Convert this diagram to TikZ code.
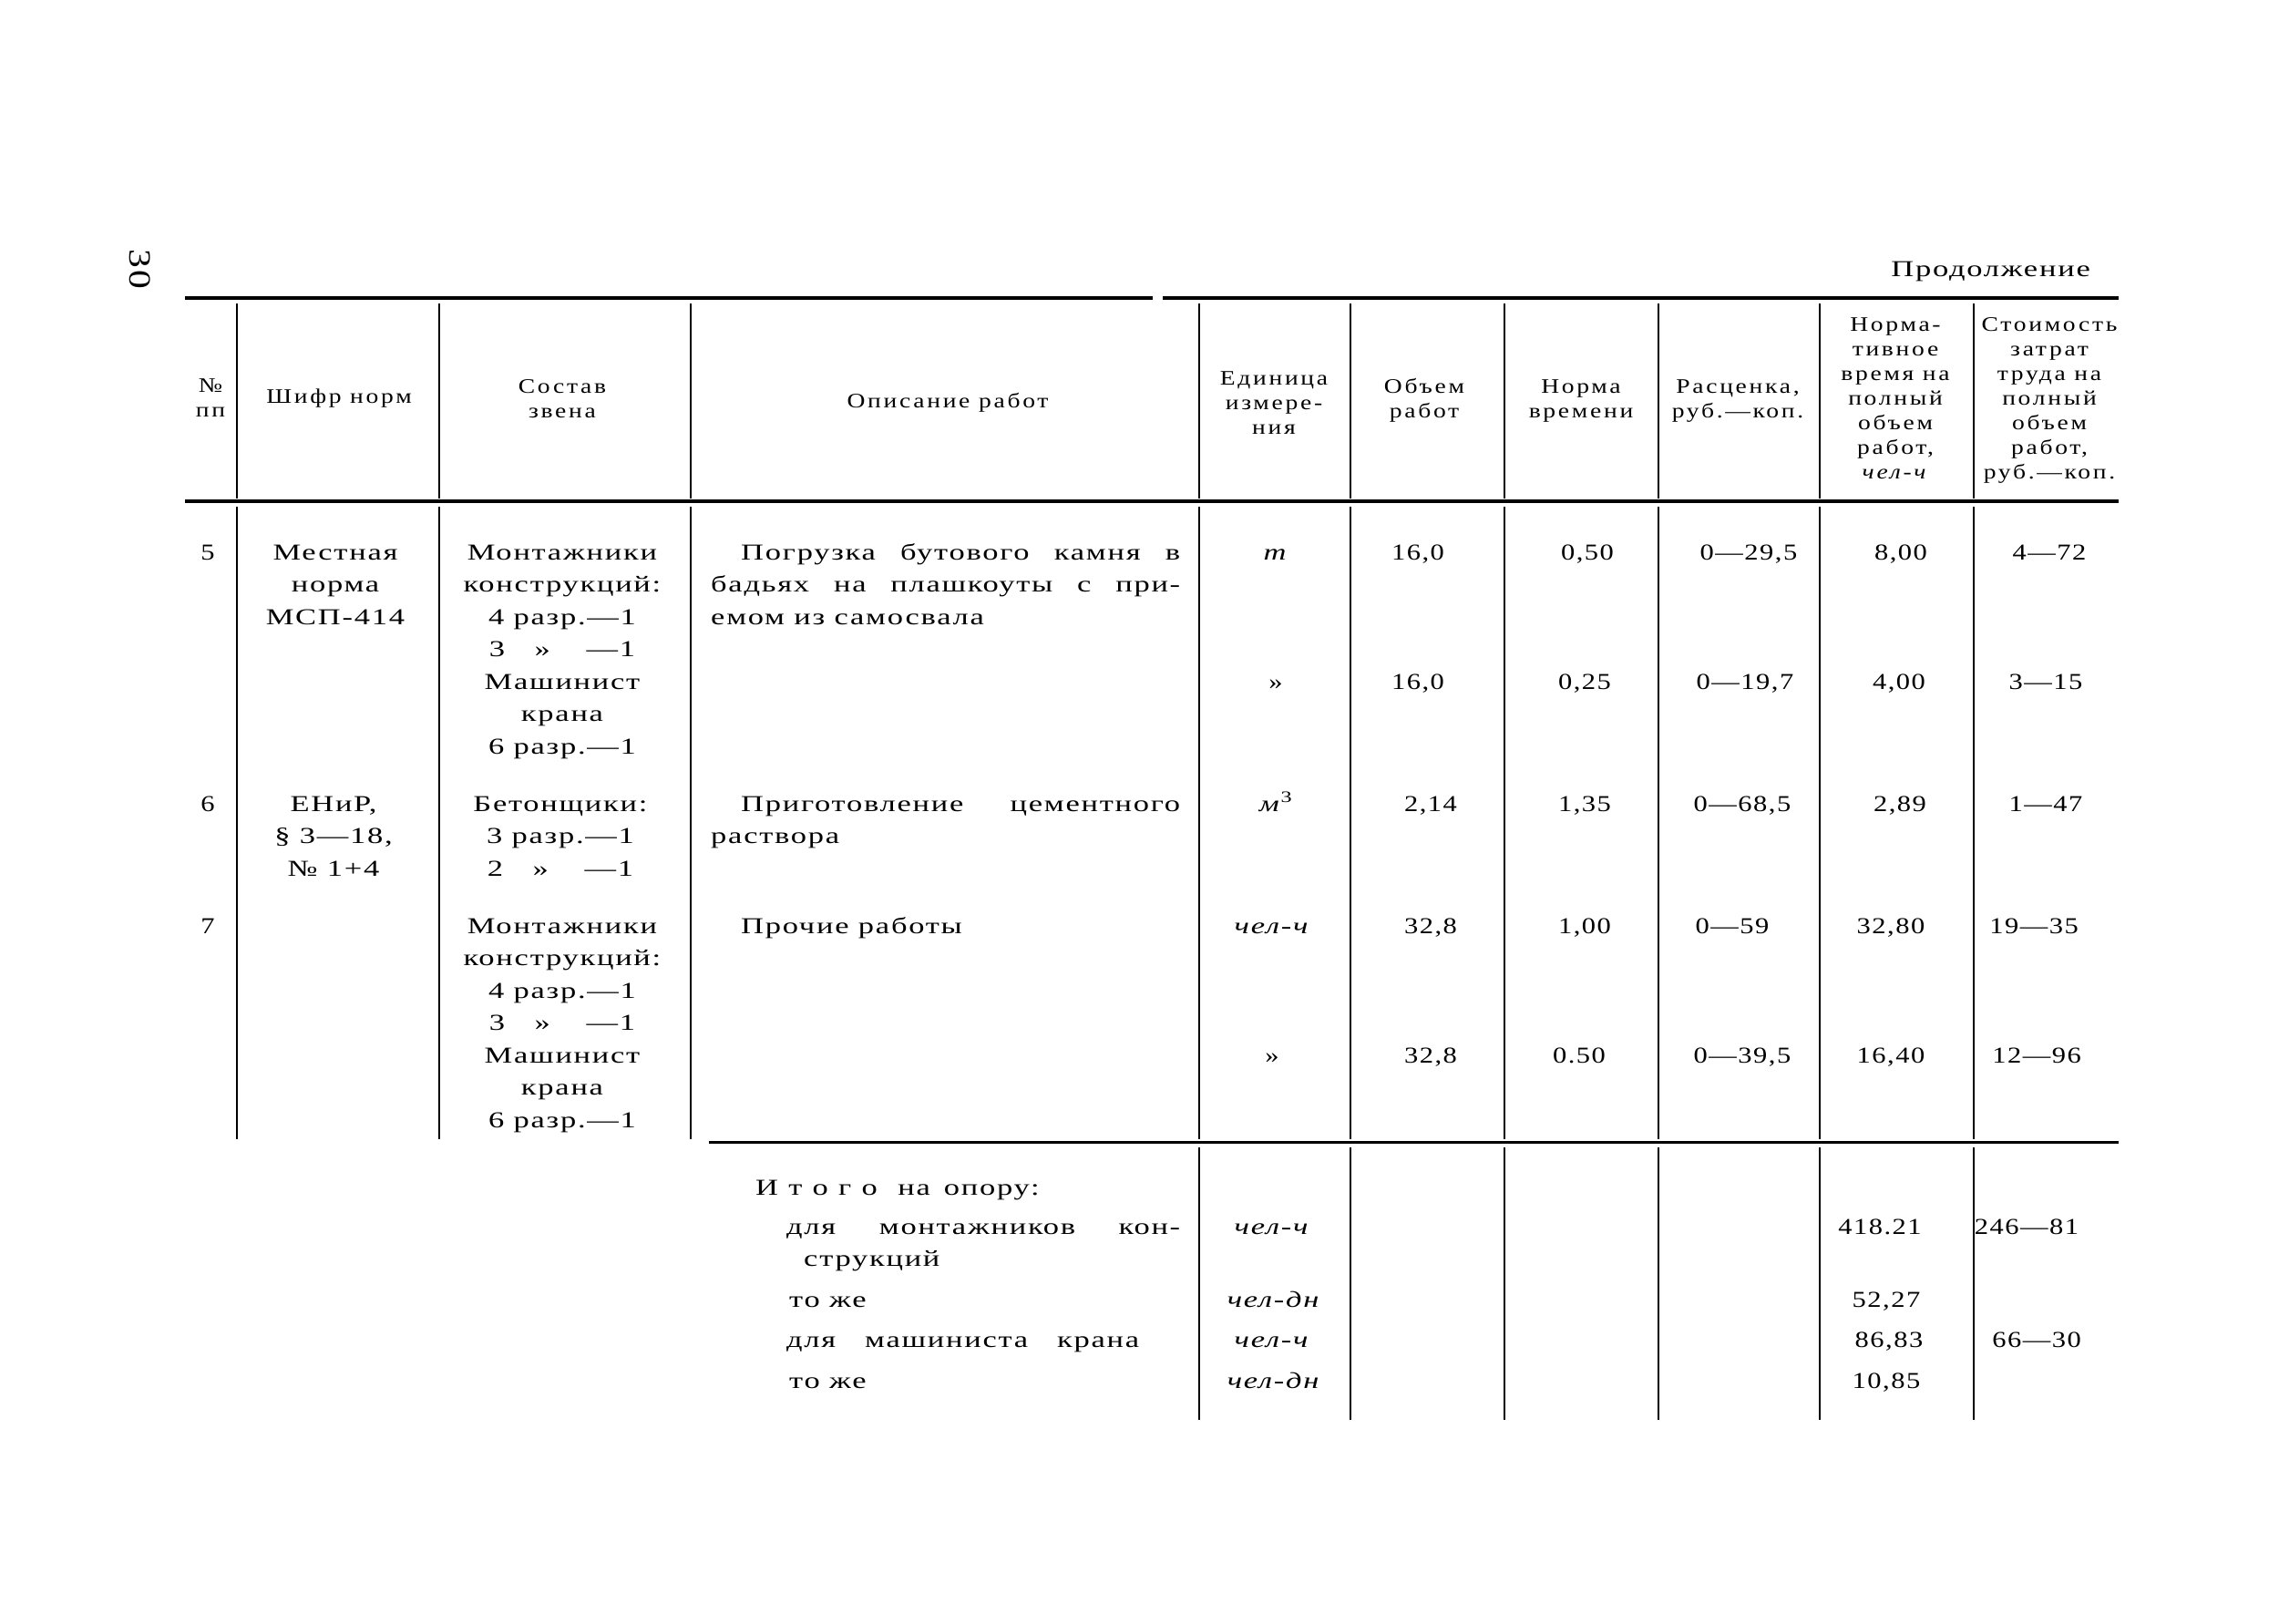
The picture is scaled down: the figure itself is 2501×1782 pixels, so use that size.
\documentclass[tikz,border=0pt]{standalone}
\usepackage{fontspec}
\usepackage{calc}
\setmainfont{Liberation Serif}[FakeStretch=1.22, LetterSpace=6]
\newfontfamily\hdf{Liberation Serif}[FakeStretch=1.22, LetterSpace=12]
\newfontfamily\ltf{Liberation Serif}[FakeStretch=1.38, LetterSpace=7]
\newcommand\cstack[1]{\vtop{\halign{\hfil##\hfil\cr#1\crcr}}}
\newcommand\bodyf{\fontsize{25}{35.5}\selectfont}
\newcommand\letf{\ltf\fontsize{25}{35.5}\selectfont}
\newcommand\headf{\hdf\fontsize{22.6}{27.1}\selectfont}
\newcommand\dit[1]{\makebox[\widthof{3 разр.}][l]{#1\hspace{1.3em}»}—1}
\tikzset{
  rule/.style={line width=4pt},
  sep/.style={line width=3pt},
  vline/.style={line width=2.4pt},
  bt/.style={anchor=base, inner sep=0pt, font=\bodyf},
  lt/.style={anchor=base, inner sep=0pt, font=\letf},
  ltl/.style={anchor=base west, inner sep=0pt, font=\letf},
  ht/.style={anchor=base, inner sep=0pt, font=\headf},
}
\begin{document}
\begin{tikzpicture}[x=1pt,y=-1pt]
\useasboundingbox (0,0) rectangle (2501,1782);
\fill[white] (0,0) rectangle (2501,1782);

% page number and caption
\node[inner sep=0pt, rotate=-90, font=\fontsize{34}{38}\selectfont] (pg) at (154,295) {30};
\node[anchor=base east, inner sep=0pt, font=\letf] (cont) at (2294,303) {Продолжение};

% rules
\draw[rule] (203,327) -- (1265,327);
\draw[rule] (1276,327) -- (2325,327);
\draw[rule] (203,550) -- (2325,550);
\draw[sep] (778,1253) -- (2325,1253);

% header verticals
\foreach \x in {260,482,758,1316,1482,1651,1820,1997,2166}
  \draw[vline] (\x,333) -- (\x,547);
% body verticals
\foreach \x in {260,482,758,1316,1482,1651,1820,1997,2166}
  \draw[vline] (\x,556) -- (\x,1250);
% totals verticals
\foreach \x in {1316,1482,1651,1820,1997,2166}
  \draw[vline] (\x,1259) -- (\x,1558);

% header
\node[ht] (h1) at (231,430) {\cstack{№\cr пп}};
\node[ht] (h2) at (372,442) {Шифр норм};
\node[ht] (h3) at (617,431) {\cstack{Состав\cr звена}};
\node[ht] (h4) at (1040,447) {Описание работ};
\node[ht] (h5) at (1398,422) {\cstack{Единица\cr измере-\cr ния}};
\node[ht] (h6) at (1563,431) {\cstack{Объем\cr работ}};
\node[ht] (h7) at (1735,431) {\cstack{Норма\cr времени}};
\node[ht] (h8) at (1907,431) {\cstack{Расценка,\cr руб.—коп.}};
\node[ht] (h9) at (2080,363) {\cstack{Норма-\cr тивное\cr время на\cr полный\cr объем\cr работ,\cr \textit{чел-ч}}};
\node[ht] (h10) at (2249,363) {\cstack{Стоимость\cr затрат\cr труда на\cr полный\cr объем\cr работ,\cr руб.—коп.}};

% row 5
\node[bt] (n5) at (228,614) {5};
\node[lt] (c5) at (368,614) {\cstack{Местная\cr норма\cr МСП-414}};
\node[lt] (s5) at (617,614) {\cstack{Монтажники\cr конструкций:\cr 4 разр.—1\cr \dit{3}\cr Машинист\cr крана\cr 6 разр.—1}};
\node[ltl] (d5a) at (813,614) {\makebox[482pt][s]{Погрузка бутового камня в}};
\node[ltl] (d5b) at (780,649.5) {\makebox[515pt][s]{бадьях на плашкоуты с при-}};
\node[ltl] (d5c) at (780,685) {емом из самосвала};
\node[lt] (u5) at (1400,614) {\textit{т}};
\node[bt] (v5) at (1556,614) {16,0};
\node[bt] (t5) at (1742,614) {0,50};
\node[bt] (r5) at (1919,614) {0—29,5};
\node[bt] (w5) at (2086,614) {8,00};
\node[bt] (k5) at (2249,614) {4—72};
% row 5b
\node[bt] (u5b) at (1400,756) {»};
\node[bt] (v5b) at (1556,756) {16,0};
\node[bt] (t5b) at (1739,756) {0,25};
\node[bt] (r5b) at (1915,756) {0—19,7};
\node[bt] (w5b) at (2084,756) {4,00};
\node[bt] (k5b) at (2245,756) {3—15};

% row 6
\node[bt] (n6) at (228,890) {6};
\node[lt] (c6) at (366,890) {\cstack{ЕНиР,\cr § 3—18,\cr № 1+4}};
\node[lt] (s6) at (615,890) {\cstack{Бетонщики:\cr 3 разр.—1\cr \dit{2}}};
\node[ltl] (d6a) at (813,890) {\makebox[482pt][s]{Приготовление цементного}};
\node[ltl] (d6b) at (780,925.5) {раствора};
\node[lt] (u6) at (1400,890) {\textit{м}\textsuperscript{3}};
\node[bt] (v6) at (1570,890) {2,14};
\node[bt] (t6) at (1739,890) {1,35};
\node[bt] (r6) at (1912,890) {0—68,5};
\node[bt] (w6) at (2085,890) {2,89};
\node[bt] (k6) at (2245,890) {1—47};

% row 7
\node[bt] (n7) at (228,1024) {7};
\node[lt] (s7) at (617,1024) {\cstack{Монтажники\cr конструкций:\cr 4 разр.—1\cr \dit{3}\cr Машинист\cr крана\cr 6 разр.—1}};
\node[ltl] (d7) at (813,1024) {Прочие работы};
\node[lt] (u7) at (1396,1024) {\textit{чел-ч}};
\node[bt] (v7) at (1570,1024) {32,8};
\node[bt] (t7) at (1739,1024) {1,00};
\node[bt] (r7) at (1901,1024) {0—59};
\node[bt] (w7) at (2075,1024) {32,80};
\node[bt] (k7) at (2232,1024) {19—35};
% row 7b
\node[bt] (u7b) at (1396,1166) {»};
\node[bt] (v7b) at (1570,1166) {32,8};
\node[bt] (t7b) at (1733,1166) {0.50};
\node[bt] (r7b) at (1912,1166) {0—39,5};
\node[bt] (w7b) at (2075,1166) {16,40};
\node[bt] (k7b) at (2235,1166) {12—96};

% totals
\node[ltl] (it0) at (829,1311) {И\hspace{0.45em}т\hspace{0.45em}о\hspace{0.45em}г\hspace{0.45em}о\hspace{0.9em}на\hspace{0.6em}опору:};
\node[ltl] (it1) at (863,1354) {\makebox[432pt][s]{для монтажников кон-}};
\node[ltl] (it1b) at (882,1389) {струкций};
\node[ltl] (it2) at (866,1434) {то же};
\node[ltl] (it3) at (863,1478) {\makebox[387pt][s]{для машиниста крана}};
\node[ltl] (it4) at (866,1523) {то же};
\node[lt] (iu1) at (1396,1354) {\textit{чел-ч}};
\node[lt] (iu2) at (1398,1434) {\textit{чел-дн}};
\node[lt] (iu3) at (1396,1478) {\textit{чел-ч}};
\node[lt] (iu4) at (1398,1523) {\textit{чел-дн}};
\node[bt] (iw1) at (2063,1354) {418.21};
\node[bt] (iw2) at (2070,1434) {52,27};
\node[bt] (iw3) at (2073,1478) {86,83};
\node[bt] (iw4) at (2070,1523) {10,85};
\node[bt] (ik1) at (2224,1354) {246—81};
\node[bt] (ik3) at (2235,1478) {66—30};
\end{tikzpicture}
\end{document}
